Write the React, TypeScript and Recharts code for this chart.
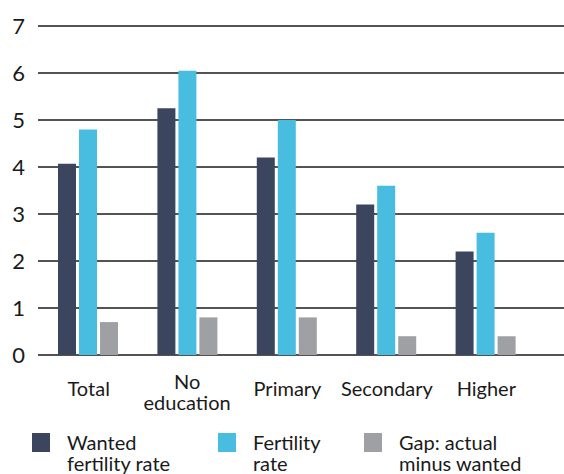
import React from "react";
import { BarChart, Bar, XAxis, YAxis, CartesianGrid, Legend } from "recharts";

const categories = ["Total", "No\neducation", "Primary", "Secondary", "Higher"];
const wanted = [4.07, 5.25, 4.2, 3.2, 2.2];
const fertility = [4.8, 6.05, 5.0, 3.6, 2.6];
const gap = [0.7, 0.8, 0.8, 0.4, 0.4];
const yTicks = [0, 1, 2, 3, 4, 5, 6, 7];
const seriesNames = ["Wanted\nfertility rate", "Fertility\nrate", "Gap: actual\nminus wanted"];
const colors = ["#3b465e", "#48bddf", "#9fa0a3"];

const data = categories.map((c, i) => ({
  name: c,
  wanted: wanted[i],
  fertility: fertility[i],
  gap: gap[i],
}));

const FONT = "Lato, 'Noto Sans', sans-serif";
const TEXT = "#1a1a1a";

const XTick = (props: any) => {
  const { x, y, payload } = props;
  const lines: string[] = String(payload.value).split("\n");
  if (lines.length === 1) {
    return (
      <text x={x + 1} y={y + 41} textAnchor="middle" fontFamily={FONT} fontSize={20} fill={TEXT}>
        {lines[0]}
      </text>
    );
  }
  return (
    <text textAnchor="middle" fontFamily={FONT} fontSize={20} fill={TEXT}>
      {lines.map((l, i) => (
        <tspan key={i} x={x} y={y + 34 + i * 21}>
          {l}
        </tspan>
      ))}
    </text>
  );
};

const LegendContent = () => {
  const xs = [24, 210, 356];
  return (
    <div style={{ position: "relative", width: 564, height: 54 }}>
      {seriesNames.map((n, i) => (
        <div key={i} style={{ position: "absolute", left: xs[i], top: 0 }}>
          <div
            style={{
              position: "absolute",
              left: 8,
              top: 13,
              width: 18,
              height: 19,
              background: colors[i],
            }}
          />
          <div
            style={{
              position: "absolute",
              left: 43,
              top: 12,
              fontFamily: FONT,
              fontSize: 20,
              lineHeight: "21px",
              color: TEXT,
              whiteSpace: "pre",
            }}
          >
            {n}
          </div>
        </div>
      ))}
    </div>
  );
};

export default function App() {
  return (
    <div style={{ position: "absolute", left: 0, top: 0, width: 564, height: 474 }}>
      <BarChart
        width={564}
        height={474}
        data={data}
        margin={{ top: 26, right: 0, bottom: 0, left: 0 }}
        barSize={18}
        barGap={3}
      >
        <CartesianGrid vertical={false} stroke="#1a1a1a" strokeWidth={1.6} />
        <XAxis
          dataKey="name"
          axisLine={false}
          tickLine={false}
          tickSize={0}
          tickMargin={0}
          height={65}
          interval={0}
          padding={{ left: 0, right: 29 }}
          tick={<XTick />}
        />
        <YAxis
          domain={[0, 7]}
          ticks={yTicks}
          axisLine={false}
          tickLine={false}
          tickSize={0}
          tickMargin={13}
          width={38}
          tick={{ fontFamily: FONT, fontSize: 22, fill: TEXT }}
        />
        <Legend verticalAlign="bottom" height={54} content={() => <LegendContent />} wrapperStyle={{ left: 0, width: 564, height: 54 }} />
        <Bar dataKey="wanted" fill={colors[0]} isAnimationActive={false} />
        <Bar dataKey="fertility" fill={colors[1]} isAnimationActive={false} />
        <Bar dataKey="gap" fill={colors[2]} isAnimationActive={false} />
      </BarChart>
    </div>
  );
}
